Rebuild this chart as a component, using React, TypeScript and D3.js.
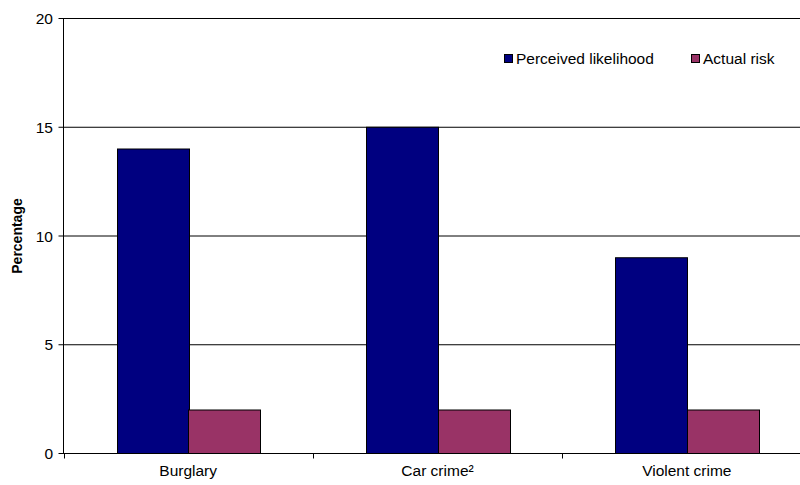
import React from "react";
import * as d3 from "d3";

const categories = ["Burglary", "Car crime²", "Violent crime"];
const seriesNames = ["Perceived likelihood", "Actual risk"];
const perceived = [14, 15, 9];
const actual = [2, 2, 2];
const yTicks = [0, 5, 10, 15, 20];
const colors = ["#000080", "#993366"];

const W = 800;
const H = 485;
const left = 63.5;
const top = 18.5;
const bottom = 453.5;
const right = 811.5;

export default function App() {
  const x = d3.scaleBand<string>().domain(categories).range([left, right]).paddingInner(0).paddingOuter(0);
  const inner = d3.scaleBand<number>().domain([0, 1]).range([0, x.bandwidth()]).paddingOuter(0.74).paddingInner(0);
  const y = d3.scaleLinear().domain([0, 20]).range([bottom, top]);
  const series = [perceived, actual];
  const font = "Arial, 'Liberation Sans', sans-serif";
  const fs = 15.5;

  return (
    <svg width={W} height={H} style={{ display: "block", position: "absolute", left: 0, top: 0 }}>
      <rect width={W} height={H} fill="#fff" />
      {yTicks.map((t) => (
        <g key={t}>
          <line x1={left - 5} x2={right} y1={y(t)} y2={y(t)} stroke="#000" strokeWidth={1} />
          <text x={53} y={y(t) + 5.5} textAnchor="end" fontFamily={font} fontSize={fs} fill="#000">{t}</text>
        </g>
      ))}
      {categories.map((c, i) =>
        series.map((s, j) => {
          const x0 = Math.round((x(c) as number) + (inner(j) as number)) + 0.5;
          return (
            <rect key={c + j} x={x0} y={y(s[i])} width={Math.round(inner.bandwidth())} height={y(0) - y(s[i])}
              fill={colors[j]} stroke="#000" strokeWidth={1} />
          );
        })
      )}
      <line x1={left} x2={left} y1={top} y2={bottom} stroke="#000" />
      <line x1={left} x2={right} y1={bottom} y2={bottom} stroke="#000" />
      {categories.map((c) => (
        <g key={c}>
          <line x1={Math.round(x(c) as number) + 0.5} x2={Math.round(x(c) as number) + 0.5} y1={bottom} y2={bottom + 5} stroke="#000" />
          <text x={(x(c) as number) + x.bandwidth() / 2} y={476} textAnchor="middle" fontFamily={font} fontSize={fs}>{c}</text>
        </g>
      ))}
      <text transform={`translate(22,${(top + bottom) / 2}) rotate(-90)`} textAnchor="middle" fontFamily={font} fontSize={14} fontWeight="bold">Percentage</text>
      {seriesNames.map((n, j) => {
        const lx = j === 0 ? 504 : 691;
        return (
          <g key={n}>
            <rect x={lx + 0.5} y={54.5} width={8} height={8} fill={colors[j]} stroke="#000" />
            <text x={lx + 12} y={64} fontFamily={font} fontSize={fs}>{n}</text>
          </g>
        );
      })}
    </svg>
  );
}
